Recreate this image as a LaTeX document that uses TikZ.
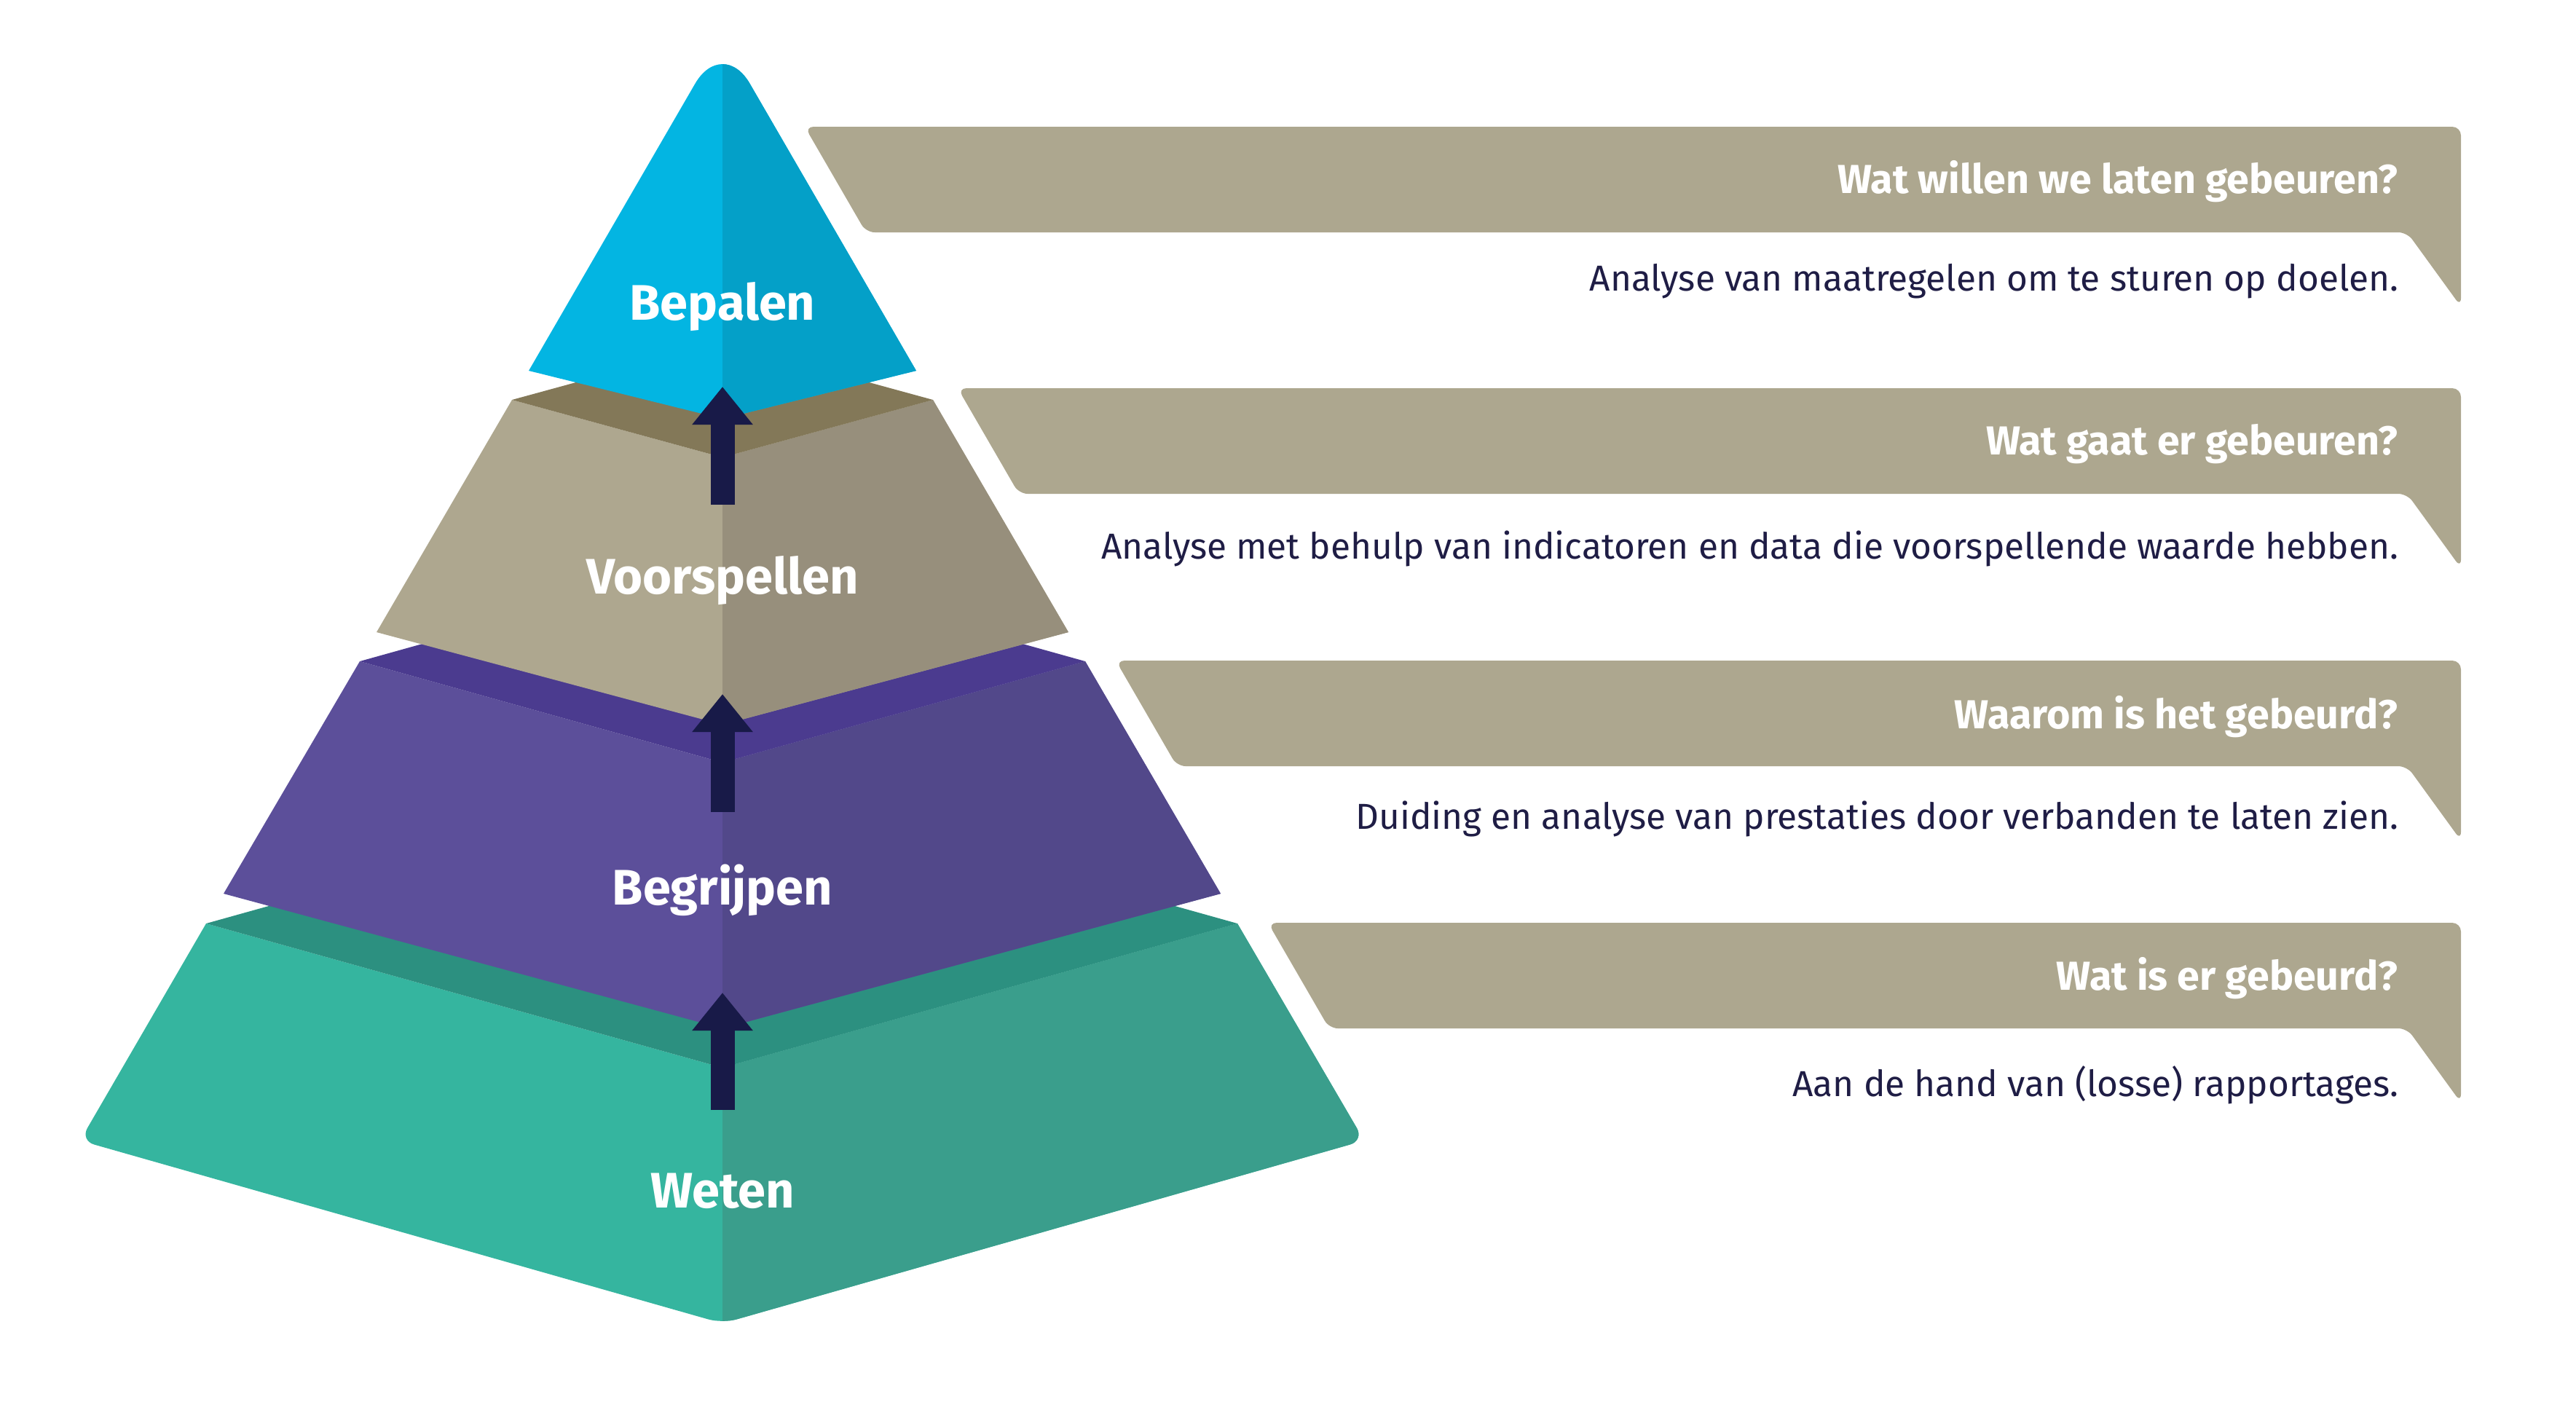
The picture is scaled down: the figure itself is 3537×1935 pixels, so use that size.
\documentclass[tikz,border=0pt]{standalone}
\usepackage{fontspec}
\setmainfont{Fira Sans}
\usepackage{tikz}
\usetikzlibrary{arrows.meta}

\definecolor{cyaanL}{HTML}{03B5E2}
\definecolor{cyaanR}{HTML}{04A0C8}
\definecolor{zandL}{HTML}{AEA78F}
\definecolor{zandR}{HTML}{978F7C}
\definecolor{zandT}{HTML}{837858}
\definecolor{paarsL}{HTML}{5C4F9A}
\definecolor{paarsR}{HTML}{52488A}
\definecolor{paarsT}{HTML}{4B3B8F}
\definecolor{groenL}{HTML}{35B59F}
\definecolor{groenR}{HTML}{3A9E8C}
\definecolor{groenT}{HTML}{2C9080}
\definecolor{donker}{HTML}{181A48}
\definecolor{bannerkleur}{HTML}{ADA78F}
\definecolor{tekst}{HTML}{1F1D45}

\begin{document}
\begin{tikzpicture}[x=0.01cm, y=-0.01cm,
    halves/.style 2 args={fill=#1, path picture={\fill[#2] (992,0) rectangle (3537,1935);}},
    laag/.style={font=\bfseries\fontsize{19.5pt}{22pt}\selectfont, text=white, anchor=base, inner sep=0pt},
    vraag/.style={font=\bfseries\fontsize{15.8pt}{18pt}\selectfont, text=white, anchor=base east, inner sep=0pt},
    uitleg/.style={font=\fontsize{14.1pt}{17pt}\selectfont, text=tekst, anchor=base east, inner sep=0pt},
    pijl/.style={draw=donker, line width=3.3mm, -{Triangle[width=8mm,length=5.2mm]}},
    banner/.style={fill=bannerkleur, rounded corners=1.2mm}]
        \useasboundingbox (0,0) rectangle (3537,1935);

        % Weten
        \fill[halves={groenL}{groenR}] (1786,1417) [rounded corners=2mm] -- (1873,1566) -- (992,1817) -- (110,1566) -- (196.5,1417) [sharp corners] -- (283,1268) -- (992,1466) -- (1699,1268) -- cycle;
        \fill[groenT] (283,1268) -- (992,1466) -- (1699,1268) -- (992,1070) -- cycle;

        % Begrijpen
        \fill[halves={paarsL}{paarsR}] (494,908) -- (992,1047) -- (1490,908) -- (1676,1227) -- (992,1412) -- (307,1227) -- cycle;
        \fill[paarsT] (494,908) -- (992,1047) -- (1490,908) -- (992,769) -- cycle;

        % Voorspellen
        \fill[halves={zandL}{zandR}] (703,549) -- (992,628) -- (1281,549) -- (1467,868) -- (992,995) -- (517,868) -- cycle;
        \fill[zandT] (703,549) -- (992,628) -- (1281,549) -- (992,470) -- cycle;

        % Bepalen (top)
        \fill[halves={cyaanL}{cyaanR}] (726,509) -- (992,575) -- (1258,509) -- (1125,279.5) [rounded corners=7.5mm] -- (992,50) -- (859,279.5) [sharp corners] -- cycle;

        % Pijlen
        \coordinate (w1) at (992,1524);
        \coordinate (w2) at (992,1363);
        \coordinate (b1) at (992,1115);
        \coordinate (b2) at (992,953);
        \coordinate (v1) at (992,693);
        \coordinate (v2) at (992,531);
        \draw[pijl] (w1) -- (w2);
        \draw[pijl] (b1) -- (b2);
        \draw[pijl] (v1) -- (v2);

        % Labels in de piramide
        \node[laag] (bepalen) at (992,439) {Bepalen};
        \node[laag] (voorspellen) at (992,815) {Voorspellen};
        \node[laag] (begrijpen) at (992,1242) {Begrijpen};
        \node[laag] (weten) at (992,1658) {Weten};

        % Tekstballonnen
        \fill[banner] (2242,174) -- (3379,174) -- (3379,421) -- (3305,319) -- (1189,319) -- (1105,174) -- cycle;
        \fill[banner] (2347,533) -- (3379,533) -- (3379,780) -- (3305,678) -- (1399,678) -- (1315,533) -- cycle;
        \fill[banner] (2455,907) -- (3379,907) -- (3379,1154) -- (3305,1052) -- (1616,1052) -- (1532,907) -- cycle;
        \fill[banner] (2560,1267) -- (3379,1267) -- (3379,1514) -- (3305,1412) -- (1825,1412) -- (1741,1267) -- cycle;

        \node[vraag] (vraag1) at (3293,265) {Wat willen we laten gebeuren?};
        \node[uitleg] (uitleg1) at (3294,399) {Analyse van maatregelen om te sturen op doelen.};
        \node[vraag] (vraag2) at (3293,624) {Wat gaat er gebeuren?};
        \node[uitleg] (uitleg2) at (3294,767) {Analyse met behulp van indicatoren en data die voorspellende waarde hebben.};
        \node[vraag] (vraag3) at (3293,1000) {Waarom is het gebeurd?};
        \node[uitleg] (uitleg3) at (3294,1138) {Duiding en analyse van prestaties door verbanden te laten zien.};
        \node[vraag] (vraag4) at (3293,1359) {Wat is er gebeurd?};
        \node[uitleg] (uitleg4) at (3294,1505) {Aan de hand van (losse) rapportages.};
\end{tikzpicture}
\end{document}
